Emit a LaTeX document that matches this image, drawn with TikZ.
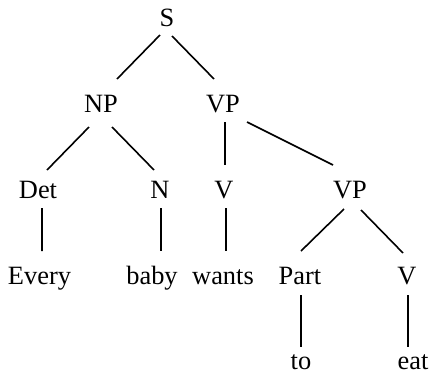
\documentclass[tikz,border=0pt]{standalone}
\usepackage{fontspec}
\setmainfont{Liberation Serif}
\usetikzlibrary{calc}
\begin{document}
\begin{tikzpicture}[x=1bp,y=-1bp,
  lab/.style={anchor=base,inner sep=0pt,font=\fontsize{26.5}{30}\selectfont},
  edge/.style={line width=1.6bp,black}]
\useasboundingbox (0,0) rectangle (430,372);
\node[lab] (S) at (167,26) {S};
\node[lab] (NP) at (101,112) {NP};
\node[lab] (VPa) at (223,112) {VP};
\node[lab] (Det) at (38,198) {Det};
\node[lab] (N) at (160,198) {N};
\node[lab] (Va) at (224,198) {V};
\node[lab] (VPb) at (350,198) {VP};
\node[lab] (Every) at (39.5,284) {Every};
\node[lab] (baby) at (152,284) {baby};
\node[lab] (wants) at (223,284) {wants};
\node[lab] (Part) at (300,284) {Part};
\node[lab] (Vb) at (407,284) {V};
\node[lab] (to) at (301,369) {to};
\node[lab] (eat) at (413,369) {eat};
\draw[edge] ($(S.base)+(-7,9)$) -- ($(NP.base)+(16,-33)$);
\draw[edge] ($(S.base)+(5,10)$) -- ($(VPa.base)+(-9,-33)$);
\draw[edge] ($(NP.base)+(-12,15)$) -- ($(Det.base)+(9,-28)$);
\draw[edge] ($(NP.base)+(11,15)$) -- ($(N.base)+(-6,-28)$);
\draw[edge] ($(VPa.base)+(2,10)$) -- ($(Va.base)+(1,-33)$);
\draw[edge] ($(VPa.base)+(24,10)$) -- ($(VPb.base)+(-17,-33)$);
\draw[edge] ($(Det.base)+(4,10)$) -- ($(Every.base)+(2.5,-33)$);
\draw[edge] ($(N.base)+(1,10)$) -- ($(baby.base)+(9,-33)$);
\draw[edge] ($(Va.base)+(2,10)$) -- ($(wants.base)+(3,-33)$);
\draw[edge] ($(VPb.base)+(-6,11)$) -- ($(Part.base)+(1,-33)$);
\draw[edge] ($(VPb.base)+(11,12)$) -- ($(Vb.base)+(-4,-31)$);
\draw[edge] ($(Part.base)+(1,11)$) -- ($(to.base)+(0,-22)$);
\draw[edge] ($(Vb.base)+(1,11)$) -- ($(eat.base)+(-5,-22)$);
\end{tikzpicture}
\end{document}
